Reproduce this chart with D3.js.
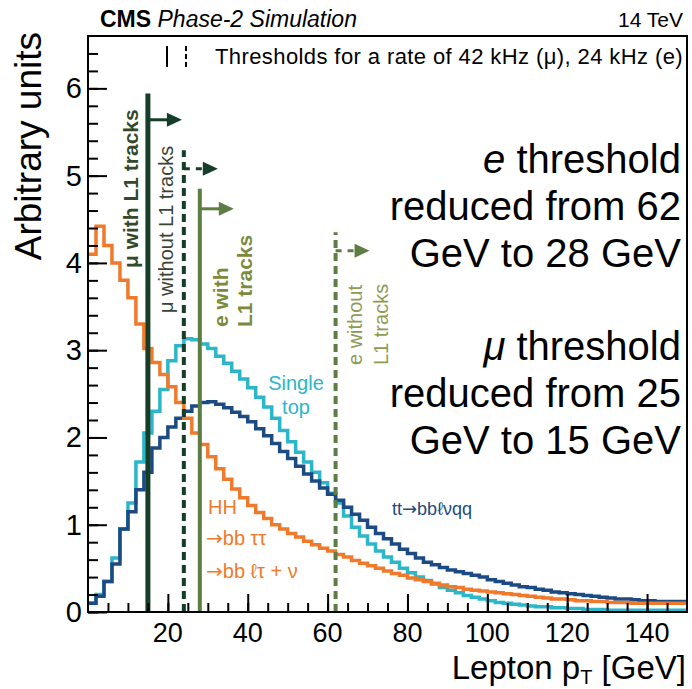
<!DOCTYPE html>
<html lang="en">
<head>
<meta charset="utf-8">
<title>Lepton pT thresholds</title>
<style>
  body { margin: 0; background: #fff; }
  text { font-family: "Liberation Sans", Arial, Helvetica, sans-serif; }
  .hist { fill: none; stroke-width: 3.5px; }
  .axis line, .axis path { stroke: #000; }
  .arrow { font-family: "DejaVu Sans", sans-serif; }
</style>
</head>
<body>
<script src="https://d3js.org/d3.v7.min.js"></script>
<script>
// histograms: 2 GeV bins from 0 to 150 GeV
var binWidth = 2;
var hhValues = [
  4.10, 4.42, 4.20, 4.00, 3.80, 3.60, 3.30, 3.02, 2.86, 2.72,
  2.58, 2.40, 2.22, 2.05, 1.92, 1.78, 1.64, 1.52, 1.41, 1.31,
  1.22, 1.14, 1.07, 1.00, 0.95, 0.90, 0.86, 0.81, 0.77, 0.73,
  0.70, 0.66, 0.63, 0.59, 0.56, 0.53, 0.50, 0.47, 0.44, 0.42,
  0.39, 0.37, 0.35, 0.33, 0.31, 0.29, 0.28, 0.26, 0.25, 0.24,
  0.23, 0.22, 0.21, 0.20, 0.19, 0.18, 0.17, 0.16, 0.15, 0.15,
  0.14, 0.13, 0.13, 0.12, 0.12, 0.11, 0.11, 0.11, 0.10, 0.10,
  0.10, 0.10, 0.10, 0.10, 0.10
];
var singleTopValues = [
  0.10, 0.20, 0.35, 0.62, 0.95, 1.25, 1.72, 2.05, 2.30, 2.55,
  2.88, 3.05, 3.13, 3.12, 3.07, 3.02, 2.93, 2.85, 2.76, 2.67,
  2.57, 2.46, 2.35, 2.22, 2.08, 1.95, 1.83, 1.72, 1.60, 1.48,
  1.36, 1.25, 1.10, 0.97, 0.87, 0.78, 0.70, 0.63, 0.57, 0.50,
  0.45, 0.40, 0.36, 0.32, 0.28, 0.25, 0.22, 0.19, 0.17, 0.15,
  0.13, 0.11, 0.10, 0.09, 0.08, 0.07, 0.06, 0.06, 0.05, 0.05,
  0.04, 0.04, 0.03, 0.03, 0.03, 0.02, 0.02, 0.02, 0.02, 0.02,
  0.02, 0.02, 0.02, 0.02, 0.02
];
var ttValues = [
  0.10, 0.18, 0.35, 0.55, 0.95, 1.15, 1.40, 1.60, 1.88, 2.00,
  2.12, 2.22, 2.30, 2.36, 2.40, 2.41, 2.38, 2.34, 2.29, 2.24,
  2.18, 2.10, 2.02, 1.93, 1.84, 1.76, 1.67, 1.58, 1.50, 1.42,
  1.35, 1.28, 1.20, 1.12, 1.05, 0.97, 0.90, 0.84, 0.78, 0.72,
  0.67, 0.62, 0.57, 0.54, 0.51, 0.48, 0.46, 0.44, 0.42, 0.40,
  0.37, 0.35, 0.33, 0.31, 0.29, 0.28, 0.26, 0.25, 0.23, 0.22,
  0.21, 0.20, 0.19, 0.18, 0.17, 0.16, 0.15, 0.15, 0.14, 0.13,
  0.13, 0.12, 0.12, 0.12, 0.12
];

var xTickLabels = [20, 40, 60, 80, 100, 120, 140];
var yTickLabels = [0, 1, 2, 3, 4, 5, 6];

// trigger thresholds in GeV: mu with L1, mu without L1, e with L1, e without L1
var thresholdNames = ["muWith", "muWithout", "eWith", "eWithout"];
var thresholdPt = [15, 24, 28, 62];
var thresholdTop = [5.94, 5.29, 4.85, 4.35];
var arrowLevel = [5.64, 5.08, 4.62, 4.14];

var noteLines = ["e threshold", "reduced from 62", "GeV to 28 GeV", "",
                 "μ threshold", "reduced from 25", "GeV to 15 GeV"];

var margin = {top: 36, right: 5, bottom: 77, left: 88},
    width = 692 - margin.left - margin.right,
    height = 689 - margin.top - margin.bottom;

var svg = d3.select("body").append("svg")
    .attr("width", 692).attr("height", 689);
var g = svg.append("g")
    .attr("transform", `translate(${margin.left},${margin.top})`);

var x = d3.scaleLinear().domain([0, 150]).range([0, width]);
var y = d3.scaleLinear().domain([0, 6.6]).range([height, 0]);

// step outline for a histogram
function stepPoints(vals) {
  var pts = vals.map((v, i) => [i * binWidth, v]);
  pts.push([vals.length * binWidth, vals[vals.length - 1]]);
  return pts;
}
var step = d3.line()
    .x(d => x(d[0]))
    .y(d => y(d[1]))
    .curve(d3.curveStepAfter);

var colors = {hh: "#f07a2c", st: "#2bb6c9", tt: "#1b4b82"};

g.append("path").attr("class", "hist")
    .attr("stroke", colors.st).attr("d", step(stepPoints(singleTopValues)));
g.append("path").attr("class", "hist")
    .attr("stroke", colors.tt).attr("d", step(stepPoints(ttValues)));
g.append("path").attr("class", "hist")
    .attr("stroke", colors.hh).attr("d", step(stepPoints(hhValues)));

// threshold lines
var thrStyle = {
  muWith:    {color: "#163d27", width: 5, dash: null},
  muWithout: {color: "#163d27", width: 4, dash: "8,5"},
  eWith:     {color: "#5e7d45", width: 4, dash: null},
  eWithout:  {color: "#5e7d45", width: 4, dash: "8,5"}
};
thresholdPt.forEach(function(pt, i) {
  var s = thrStyle[thresholdNames[i]];
  var x0 = x(pt), ya = y(arrowLevel[i]);
  g.append("line")
      .attr("x1", x0).attr("x2", x0)
      .attr("y1", height).attr("y2", y(thresholdTop[i]))
      .attr("stroke", s.color).attr("stroke-width", s.width)
      .attr("stroke-dasharray", s.dash);
  g.append("line")
      .attr("x1", x0).attr("x2", x0 + 20)
      .attr("y1", ya).attr("y2", ya)
      .attr("stroke", s.color).attr("stroke-width", 3)
      .attr("stroke-dasharray", s.dash ? "6,6" : null);
  g.append("path")
      .attr("d", `M${x0 + 19},${ya - 7}L${x0 + 34},${ya}L${x0 + 19},${ya + 7}Z`)
      .attr("fill", s.color);
});

// axes
g.append("g").attr("class", "axis")
    .attr("transform", `translate(0,${height})`)
    .call(d3.axisTop(x).tickValues(d3.range(5, 150, 5)).tickSize(9).tickFormat(""))
    .call(g2 => g2.select(".domain").remove());
g.append("g").attr("class", "axis")
    .attr("transform", `translate(0,${height})`)
    .call(d3.axisTop(x).tickValues(xTickLabels).tickSize(18).tickFormat(""))
    .call(g2 => g2.select(".domain").remove());

var yMinor = d3.range(0, 66, 2).map(d => d / 10);
g.append("g").attr("class", "axis")
    .call(d3.axisRight(y).tickValues(yMinor).tickSize(10).tickFormat(""))
    .call(g2 => g2.select(".domain").remove());
g.append("g").attr("class", "axis")
    .call(d3.axisRight(y).tickValues(yTickLabels).tickSize(19).tickFormat(""))
    .call(g2 => g2.select(".domain").remove());
g.selectAll(".axis line").attr("stroke-width", 2);

// frame
g.append("rect").attr("width", width).attr("height", height)
    .attr("fill", "none").attr("stroke", "#000").attr("stroke-width", 2);

// tick labels
g.selectAll(".xlab").data(xTickLabels).enter().append("text")
    .attr("x", d => x(d)).attr("y", height + 30)
    .attr("text-anchor", "middle").attr("font-size", 27).text(d => d);
g.selectAll(".ylab").data(yTickLabels).enter().append("text")
    .attr("x", -6).attr("y", d => y(d) + 10)
    .attr("text-anchor", "end").attr("font-size", 29).text(d => d);

// axis titles
var xt = svg.append("text").attr("x", 686).attr("y", 679)
    .attr("text-anchor", "end").attr("font-size", 33);
xt.append("tspan").text("Lepton p");
xt.append("tspan").attr("font-size", 20).attr("dy", 5).text("T");
xt.append("tspan").attr("dy", -5).text(" [GeV]");
svg.append("text")
    .attr("transform", "translate(41,32) rotate(-90)")
    .attr("text-anchor", "end").attr("font-size", 37)
    .text("Arbitrary units");

// header
var hd = svg.append("text").attr("x", 100).attr("y", 27).attr("font-size", 23);
hd.append("tspan").attr("font-weight", "bold").text("CMS ");
hd.append("tspan").attr("font-style", "italic").text("Phase-2 Simulation");
svg.append("text").attr("x", 683).attr("y", 27).attr("text-anchor", "end")
    .attr("font-size", 21).text("14 TeV");

// threshold legend
svg.append("line").attr("x1", 167).attr("x2", 167).attr("y1", 46).attr("y2", 67)
    .attr("stroke", "#000").attr("stroke-width", 2);
svg.append("line").attr("x1", 186).attr("x2", 186).attr("y1", 46).attr("y2", 67)
    .attr("stroke", "#000").attr("stroke-width", 2).attr("stroke-dasharray", "5,3");
svg.append("text").attr("x", 683).attr("y", 64).attr("text-anchor", "end")
    .attr("font-size", 22).attr("letter-spacing", 0.4)
    .text("Thresholds for a rate of 42 kHz (μ), 24 kHz (e)");

// rotated threshold labels
function vlabel(px, py, lines, color, weight, size, gap) {
  var t = svg.append("text")
      .attr("transform", `translate(${px},${py}) rotate(-90)`)
      .attr("font-size", size).attr("font-weight", weight).attr("fill", color);
  lines.forEach(function(l, i) {
    t.append("tspan").attr("x", 0).attr("y", i * gap).text(l);
  });
}
vlabel(138, 268, ["μ with L1 tracks"], "#34482a", "bold", 21, 0);
vlabel(173, 313, ["μ without L1 tracks"], "#3a4434", "normal", 20, 0);
vlabel(228, 327, ["e with", "L1 tracks"], "#7c8a3c", "bold", 21, 24);
vlabel(362, 365, ["e without", "L1 tracks"], "#8f9a55", "normal", 20, 26);

// process labels
svg.append("text").attr("x", 296).attr("y", 390).attr("text-anchor", "middle")
    .attr("font-size", 20).attr("fill", colors.st).text("Single");
svg.append("text").attr("x", 296).attr("y", 414).attr("text-anchor", "middle")
    .attr("font-size", 20).attr("fill", colors.st).text("top");

function arrowText(px, py, parts, size, color) {
  var t = svg.append("text").attr("x", px).attr("y", py)
      .attr("font-size", size).attr("fill", color);
  parts.forEach(function(p) {
    var ts = t.append("tspan").text(p);
    if (p === "→") ts.attr("class", "arrow");
  });
}
arrowText(208, 514, ["HH"], 20, colors.hh);
arrowText(206, 545, ["→", "bb ττ"], 20, colors.hh);
arrowText(206, 578, ["→", "bb ℓτ + ν"], 20, colors.hh);
arrowText(392, 515, ["tt", "→", "bbℓνqq"], 18, colors.tt);

// big note
var note = svg.append("text").attr("text-anchor", "end").attr("font-size", 40)
    .attr("fill", "#000");
noteLines.forEach(function(l, i) {
  var ts = note.append("tspan").attr("x", 681).attr("y", 173 + i * 46.8);
  if (l.startsWith("e ") || l.startsWith("μ ")) {
    ts.append("tspan").attr("font-style", "italic").text(l.slice(0, 1));
    ts.append("tspan").text(l.slice(1));
  } else {
    ts.text(l);
  }
});
</script>
</body>
</html>
